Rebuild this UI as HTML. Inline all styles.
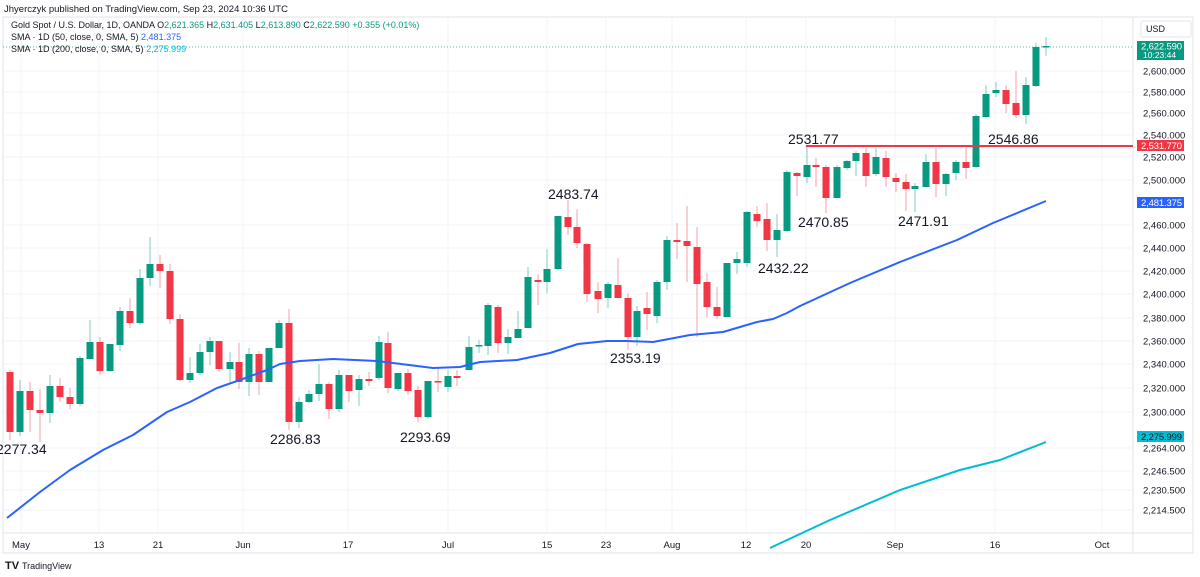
<!DOCTYPE html>
<html><head><meta charset="utf-8"><style>
html,body{margin:0;padding:0;background:#fff;width:1200px;height:577px;overflow:hidden;font-family:"Liberation Sans",sans-serif}
</style></head><body>
<svg id="s" width="1200" height="577" xmlns="http://www.w3.org/2000/svg" font-family="Liberation Sans, sans-serif">
<rect x="3" y="17" width="1190" height="536" fill="none" stroke="#e0e3eb"/>
<line x1="1133" y1="17" x2="1133" y2="553" stroke="#e0e3eb"/>
<line x1="3" y1="533" x2="1193" y2="533" stroke="#e0e3eb"/>
<g id="grid"></g>
<line x1="3" y1="47" x2="1133" y2="47" stroke="#089981" stroke-width="1" stroke-dasharray="1,2" opacity="0.7"/>
<g id="c"></g>
<polyline fill="none" stroke="#2962ff" stroke-width="2" stroke-linejoin="round" points="7,518 40,492 70,470 103,450 133,435 167,412 190,402 217,388 240,380 267,370 280,364 300,361 333,359 377,361 393,363 433,368 460,367 480,362 517,360 550,353 578,344 607,341 627,341 653,342 690,335 723,332 757,322 773,319 787,313 800,306 850,283 900,262 957,240 993,223 1046,201"/>
<polyline fill="none" stroke="#00bcd4" stroke-width="2" points="770,548 830,520 900,490 960,470 1000,460 1046,442"/>
<line x1="806" y1="146" x2="1133" y2="146" stroke="#f23645" stroke-width="2"/>
<g font-size="14" fill="#131722">
<text x="-4" y="454">2277.34</text>
<text x="270" y="444">2286.83</text>
<text x="400" y="442">2293.69</text>
<text x="548" y="199">2483.74</text>
<text x="610" y="363">2353.19</text>
<text x="798" y="227">2470.85</text>
<text x="758" y="273">2432.22</text>
<text x="898" y="226">2471.91</text>
<text x="788" y="144">2531.77</text>
<text x="988" y="144">2546.86</text>
</g>
<g id="ax" font-size="9.5" fill="#131722"></g>
<rect x="1141" y="21" width="50" height="16" rx="2" fill="#fff" stroke="#e0e3eb"/>
<text x="1146" y="32" font-size="9" fill="#131722">USD</text>
<rect x="1137" y="41" width="47" height="19" fill="#089981"/>
<text x="1141" y="49.5" font-size="9.5" fill="#fff" textLength="41">2,622.590</text>
<text x="1143" y="58" font-size="8.5" fill="#fff">10:23:44</text>
<rect x="1137" y="140" width="47" height="11" fill="#f23645"/>
<text x="1141" y="149" font-size="9.5" fill="#fff" textLength="41">2,531.770</text>
<rect x="1137" y="197" width="47" height="11" fill="#2962ff"/>
<text x="1141" y="206" font-size="9.5" fill="#fff" textLength="41">2,481.375</text>
<rect x="1137" y="431" width="47" height="11" fill="#00bcd4"/>
<text x="1141" y="440" font-size="9.5" fill="#131722" textLength="41">2,275.999</text>
<g id="dt" font-size="9.5" fill="#131722" text-anchor="middle"></g>
<text x="4" y="12" font-size="9.5" fill="#131722">Jhyerczyk published on TradingView.com, Sep 23, 2024 10:36 UTC</text>
<text x="11" y="28" font-size="9" fill="#131722">Gold Spot / U.S. Dollar, 1D, OANDA <tspan>O</tspan><tspan fill="#089981">2,621.365</tspan> H<tspan fill="#089981">2,631.405</tspan> L<tspan fill="#089981">2,613.890</tspan> C<tspan fill="#089981">2,622.590</tspan> <tspan fill="#089981">+0.355 (+0.01%)</tspan></text>
<text x="11" y="40" font-size="9" fill="#131722">SMA · 1D (50, close, 0, SMA, 5) <tspan fill="#2962ff">2,481.375</tspan></text>
<text x="11" y="52" font-size="9" fill="#131722">SMA · 1D (200, close, 0, SMA, 5) <tspan fill="#00bcd4">2,275.999</tspan></text>
<text x="5" y="569" font-size="11" font-weight="bold" fill="#131722">TV</text>
<text x="22" y="569" font-size="9" fill="#131722">TradingView</text>
</svg>
<script>
var NS="http://www.w3.org/2000/svg";
function el(p,t,a,txt){var e=document.createElementNS(NS,t);for(var k in a)e.setAttribute(k,a[k]);if(txt)e.textContent=txt;document.getElementById(p).appendChild(e);}
var lv=[[71,"2,600.000"],[92,"2,580.000"],[113,"2,560.000"],[135,"2,540.000"],[157,"2,520.000"],[180,"2,500.000"],[225,"2,460.000"],[248,"2,440.000"],[271,"2,420.000"],[294,"2,400.000"],[318,"2,380.000"],[341,"2,360.000"],[364,"2,340.000"],[388,"2,320.000"],[412,"2,300.000"],[448,"2,264.000"],[471,"2,246.500"],[490,"2,230.500"],[510,"2,214.500"]];
lv.forEach(function(l){el("grid","line",{x1:3,x2:1133,y1:l[0],y2:l[0],stroke:"#f0f3fa"});el("ax","text",{x:1143,y:l[0]+3.5},l[1]);});
var dts=[[21,"May"],[99,"13"],[158,"21"],[243,"Jun"],[348,"17"],[448,"Jul"],[547,"15"],[606,"23"],[672,"Aug"],[746,"12"],[806,"20"],[895,"Sep"],[995,"16"],[1102,"Oct"]];
dts.forEach(function(d){el("grid","line",{x1:d[0],x2:d[0],y1:17,y2:533,stroke:"#f0f3fa"});el("dt","text",{x:d[0],y:548},d[1]);});
var C=[
[10,372,432,370,440],[20,432,391,380,436],[30,391,410,382,432],[40,410,413,389,442],[50,413,386,375,423],[60,386,397,378,402],[70,397,404,388,409],[80,404,358,356,406],[90,359,342,320,359],[100,342,371,337,375],[110,371,344,344,371],[120,345,311,307,351],[130,311,323,298,328],[140,323,278,269,325],[150,278,264,237,286],[160,264,271,255,288],[170,271,319,264,324],[180,319,380,314,381],[190,380,373,357,383],[200,373,352,344,375],[210,352,341,337,365],[219,341,369,341,372],[230,369,362,352,383],[239,362,382,343,389],[249,382,354,348,396],[259,354,382,351,395],[269,382,348,348,382],[279,348,323,320,348],[289,323,422,309,430],[299,422,402,397,428],[309,402,394,390,403],[319,394,384,364,401],[329,384,409,382,419],[339,409,375,370,412],[349,375,391,375,402],[359,390,379,375,406],[369,379,381,372,386],[379,378,342,336,380],[388,343,388,332,393],[398,389,373,373,391],[408,373,391,369,395],[418,390,417,386,422],[428,417,381,381,419],[438,381,382,367,392],[448,387,376,370,392],[457,376,378,370,386],
[469,370,347,336,370],[479,346,345,340,353],[488,346,305,303,355],[498,307,343,305,353],[508,343,337,329,354],[518,338,329,311,338],[528,328,277,267,328],[538,280,282,274,305],[547,282,269,249,293],[558,269,216,216,270],[568,217,227,200,235],[577,227,243,209,248],[587,244,294,243,302],[598,291,299,282,313],[608,298,284,282,308],[618,285,298,258,298],[628,298,337,293,350],[637,337,311,306,346],[647,308,314,292,330],[657,316,282,280,323],[667,282,240,236,290],[677,240,242,223,259],[687,241,246,206,282],[697,247,284,227,337],[707,282,307,273,317],[717,307,316,287,319],[727,317,263,263,317],[737,263,259,252,274],[747,263,212,211,267],[757,214,221,206,227],[767,219,240,203,251],[777,240,230,214,257],[787,231,172,170,232],[797,173,176,172,196],[807,177,165,145,183],[816,165,167,158,187],[826,167,198,165,213],[837,198,167,165,198],[847,168,161,160,170],[856,161,153,151,176],[866,153,176,148,187],[876,174,157,148,176],[886,158,177,151,187],[896,178,182,173,192],[906,182,189,174,211],[915,189,186,183,212],[926,187,162,154,187],[936,162,184,148,197],[946,184,174,173,196],[956,173,162,160,180],[966,162,168,148,179],[976,167,116,114,168],[986,117,94,85,118],[996,93,90,82,97],[1006,90,104,85,113],[1016,103,115,71,118],[1026,115,85,77,124],[1036,86,47,43,87],[1046,47,46,37,56]];
C.forEach(function(c){var red=c[2]>c[1];var col=red?"#f23645":"#089981";var wc=red?"#f7a1a9":"#7fcfbf";
el("c","line",{x1:c[0],x2:c[0],y1:c[3],y2:c[4],stroke:wc,"stroke-width":1});
var t=Math.min(c[1],c[2]),h=Math.max(1.5,Math.abs(c[2]-c[1]));
el("c","rect",{x:c[0]-3.5,y:t,width:7,height:h,fill:col});});
</script>
</body></html>
